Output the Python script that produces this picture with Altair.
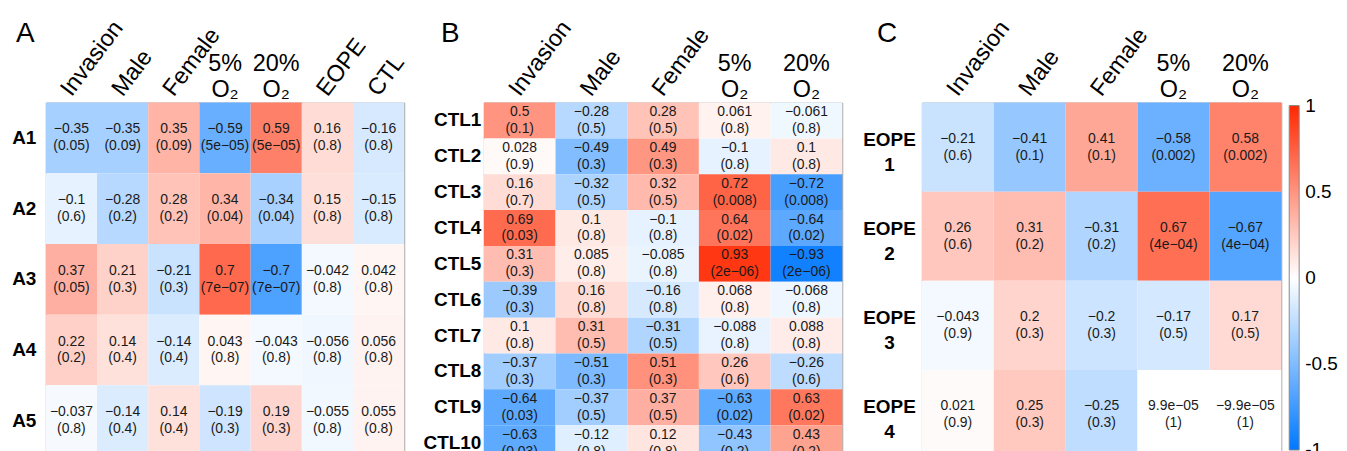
import altair as alt
import pandas as pd

FONT = "Liberation Sans"

# ---------------- Panel A ----------------
a_rows = ["A1", "A2", "A3", "A4", "A5"]
a_cols = ["Invasion", "Male", "Female", "5% O2", "20% O2", "EOPE", "CTL"]
a_r_1 = [-0.35, -0.35, 0.35, -0.59, 0.59, 0.16, -0.16]
a_p_1 = ["0.05", "0.09", "0.09", "5e-05", "5e-05", "0.8", "0.8"]
a_r_2 = [-0.1, -0.28, 0.28, 0.34, -0.34, 0.15, -0.15]
a_p_2 = ["0.6", "0.2", "0.2", "0.04", "0.04", "0.8", "0.8"]
a_r_3 = [0.37, 0.21, -0.21, 0.7, -0.7, -0.042, 0.042]
a_p_3 = ["0.05", "0.3", "0.3", "7e-07", "7e-07", "0.8", "0.8"]
a_r_4 = [0.22, 0.14, -0.14, 0.043, -0.043, -0.056, 0.056]
a_p_4 = ["0.2", "0.4", "0.4", "0.8", "0.8", "0.8", "0.8"]
a_r_5 = [-0.037, -0.14, 0.14, -0.19, 0.19, -0.055, 0.055]
a_p_5 = ["0.8", "0.4", "0.4", "0.3", "0.3", "0.8", "0.8"]

# ---------------- Panel B ----------------
b_rows = ["CTL1", "CTL2", "CTL3", "CTL4", "CTL5", "CTL6", "CTL7", "CTL8", "CTL9", "CTL10"]
b_cols = ["Invasion", "Male", "Female", "5% O2", "20% O2"]
b_r_1 = [0.5, -0.28, 0.28, 0.061, -0.061]
b_p_1 = ["0.1", "0.5", "0.5", "0.8", "0.8"]
b_r_2 = [0.028, -0.49, 0.49, -0.1, 0.1]
b_p_2 = ["0.9", "0.3", "0.3", "0.8", "0.8"]
b_r_3 = [0.16, -0.32, 0.32, 0.72, -0.72]
b_p_3 = ["0.7", "0.5", "0.5", "0.008", "0.008"]
b_r_4 = [0.69, 0.1, -0.1, 0.64, -0.64]
b_p_4 = ["0.03", "0.8", "0.8", "0.02", "0.02"]
b_r_5 = [0.31, 0.085, -0.085, 0.93, -0.93]
b_p_5 = ["0.3", "0.8", "0.8", "2e-06", "2e-06"]
b_r_6 = [-0.39, 0.16, -0.16, 0.068, -0.068]
b_p_6 = ["0.3", "0.8", "0.8", "0.8", "0.8"]
b_r_7 = [0.1, 0.31, -0.31, -0.088, 0.088]
b_p_7 = ["0.8", "0.5", "0.5", "0.8", "0.8"]
b_r_8 = [-0.37, -0.51, 0.51, 0.26, -0.26]
b_p_8 = ["0.3", "0.3", "0.3", "0.6", "0.6"]
b_r_9 = [-0.64, -0.37, 0.37, -0.63, 0.63]
b_p_9 = ["0.03", "0.5", "0.5", "0.02", "0.02"]
b_r_10 = [-0.63, -0.12, 0.12, -0.43, 0.43]
b_p_10 = ["0.03", "0.8", "0.8", "0.2", "0.2"]

# ---------------- Panel C ----------------
c_rows = ["EOPE 1", "EOPE 2", "EOPE 3", "EOPE 4"]
c_cols = ["Invasion", "Male", "Female", "5% O2", "20% O2"]
c_r_1 = [-0.21, -0.41, 0.41, -0.58, 0.58]
c_p_1 = ["0.6", "0.1", "0.1", "0.002", "0.002"]
c_r_2 = [0.26, 0.31, -0.31, 0.67, -0.67]
c_p_2 = ["0.6", "0.2", "0.2", "4e-04", "4e-04"]
c_r_3 = [-0.043, 0.2, -0.2, -0.17, 0.17]
c_p_3 = ["0.9", "0.3", "0.3", "0.5", "0.5"]
c_r_4 = [0.021, 0.25, -0.25, 9.9e-05, -9.9e-05]
c_p_4 = ["0.9", "0.3", "0.3", "1", "1"]

o2_headers = {"5% O2": "5%\nO\u2082", "20% O2": "20%\nO\u2082"}
# colour-bar ticks (the ends are nudged a hair inside so the labels centre on them)
legend_values = [-0.99999, -0.5, 0, 0.5, 0.99999]

MINUS = "\u2212"


def fmt_r(v):
    return f"{v:.2g}".replace("-", MINUS)


def build_df(rows, cols, rlists, plists):
    recs = []
    for row, rl, pl in zip(rows, rlists, plists):
        for col, r, p in zip(cols, rl, pl):
            recs.append({"row": row, "col": col, "r": r,
                         "label": f"{fmt_r(r)}\n({p.replace('-', MINUS)})"})
    return pd.DataFrame(recs)


cscale = alt.Scale(domain=[-1, 0, 1], range=["#0078FF", "#FFFFFF", "#FF2800"],
                   interpolate="rgb")


def panel(rows, cols, df, width, height, letter, letter_x, band_pos, row_axis, legend):
    xs = alt.Scale(domain=cols, paddingInner=0, paddingOuter=0)
    ys = alt.Scale(domain=rows, paddingInner=0, paddingOuter=0)
    X = alt.X("col:N", scale=xs, axis=None)
    Y = alt.Y("row:N", scale=ys, axis=row_axis)

    rect = alt.Chart(df).mark_rect().encode(
        x=X, y=Y,
        color=alt.Color("r:Q", scale=cscale, legend=legend),
    )
    cells = alt.Chart(df).mark_text(
        font=FONT, fontSize=14, lineHeight=17, lineBreak="\n", dy=-8.5,
        baseline="middle", align="center", color="#1a1a1a",
    ).encode(x=X, y=Y, text="label:N")

    rot = pd.DataFrame({"col": [c for c in cols if c not in o2_headers]})
    hdr_rot = alt.Chart(rot).mark_text(
        font=FONT, fontSize=23.5, angle=307, align="left",
        baseline="alphabetic", color="black",
    ).encode(
        x=alt.X("col:N", scale=xs, axis=None, bandPosition=band_pos),
        y=alt.value(-5),
        text="col:N",
    )
    o2 = pd.DataFrame({"col": [c for c in cols if c in o2_headers],
                       "txt": [o2_headers[c] for c in cols if c in o2_headers]})
    hdr_o2 = alt.Chart(o2).mark_text(
        font=FONT, fontSize=23.5, lineBreak="\n", lineHeight=26,
        align="center", baseline="alphabetic", color="black",
    ).encode(x=X, y=alt.value(-32), text="txt:N")

    let = alt.Chart(pd.DataFrame({"t": [letter]})).mark_text(
        font=FONT, fontSize=28, align="left", baseline="alphabetic", color="black",
    ).encode(x=alt.value(letter_x), y=alt.value(-61), text="t:N")

    return alt.layer(rect, cells, hdr_rot, hdr_o2, let).properties(width=width, height=height)


def row_axis(padding, **extra):
    return alt.Axis(title=None, domain=False, ticks=False, tickSize=0,
                    labelFont=FONT, labelFontSize=19, labelFontWeight="bold",
                    labelColor="black", labelPadding=padding, labelOverlap=False,
                    **extra)


dfA = build_df(a_rows, a_cols, [a_r_1, a_r_2, a_r_3, a_r_4, a_r_5],
               [a_p_1, a_p_2, a_p_3, a_p_4, a_p_5])
dfB = build_df(b_rows, b_cols,
               [b_r_1, b_r_2, b_r_3, b_r_4, b_r_5, b_r_6, b_r_7, b_r_8, b_r_9, b_r_10],
               [b_p_1, b_p_2, b_p_3, b_p_4, b_p_5, b_p_6, b_p_7, b_p_8, b_p_9, b_p_10])
dfC = build_df(c_rows, c_cols, [c_r_1, c_r_2, c_r_3, c_r_4],
               [c_p_1, c_p_2, c_p_3, c_p_4])

legendC = alt.Legend(
    type="gradient", orient="none", legendX=369, legendY=3, direction="vertical",
    gradientLength=346, gradientThickness=10, title=None,
    values=legend_values, labelFont=FONT, labelFontSize=19, labelColor="black",
    labelOffset=6, gradientStrokeColor="#888", labelOverlap=False,
    gradientStrokeWidth=1, padding=0,
    labelExpr="toString(round(datum.value * 10) / 10)",
)

pA = panel(a_rows, a_cols, dfA, 360, 355, "A", -30, 0.5, row_axis(10), None)
pB = panel(b_rows, b_cols, dfB, 360, 360, "B", -43, 0.5, row_axis(3), None)
pC = panel(c_rows, c_cols, dfC, 361, 358, "C", -45, 0.5,
           row_axis(33, labelAlign="center", labelBaseline="middle",
                    labelLineHeight=25, labelOffset=-7,
                    labelExpr="split(datum.value, ' ')"),
           legendC)

chart = alt.hconcat(pA, pB, pC, spacing=80, bounds="flush").resolve_scale(
    color="independent", x="independent", y="independent"
).configure_view(stroke="#999999", strokeWidth=1).properties(
    padding={"left": 3, "top": 7, "right": 0, "bottom": 0}, background="white"
)

chart.save("out.html", embed_options={"renderer": "svg", "actions": False})
